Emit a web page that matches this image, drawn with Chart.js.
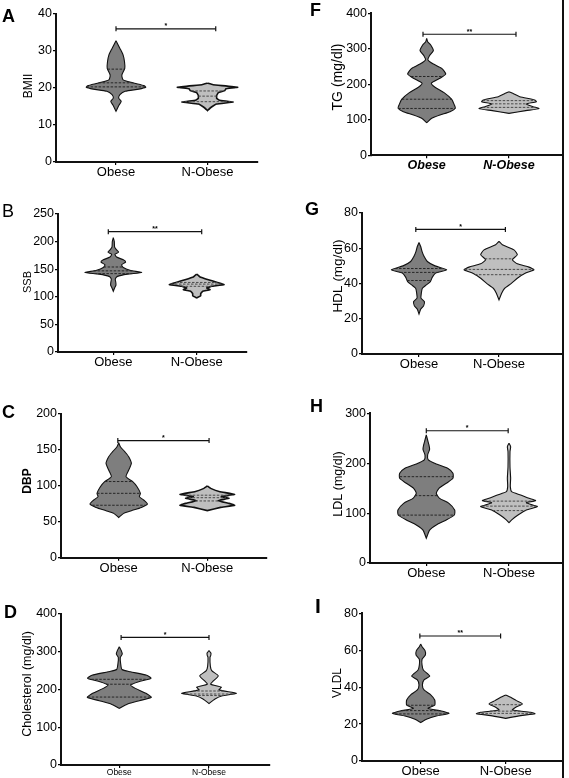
<!DOCTYPE html>
<html>
<head>
<meta charset="utf-8">
<script src="https://cdn.jsdelivr.net/npm/chart.js@4.4.1/dist/chart.umd.min.js"></script>
<style>
  html, body { margin: 0; padding: 0; background: #fff; }
  #wrap { position: relative; width: 569px; height: 778px; overflow: hidden; background: #fff; }
  #wrap canvas { position: absolute; left: 0; top: 0; }
  #edge { position: absolute; left: 562px; top: 0; width: 2px; height: 778px; background: #111; }
</style>
</head>
<body>
<div id="wrap"><div id="edge"></div></div>
<script>
const FONT = '"Liberation Sans", Arial, Helvetica, sans-serif';
const groups = ['Obese', 'N-Obese'];

// violin outlines: value levels (top to bottom) and half widths (category units)
// A - BMI
const bmiObeseLevels = [32.8, 32.1, 30.7, 28.9, 27.1, 25.3, 23.5, 22.2, 21.3, 20.6, 20.2, 19.7, 19.1, 18.2, 17.3, 16.4, 15.2, 13.7];
const bmiObeseWidths = [0, 0.014, 0.043, 0.078, 0.093, 0.096, 0.064, 0.078, 0.203, 0.31, 0.325, 0.25, 0.1, 0.043, 0.029, 0.057, 0.029, 0];
const bmiNObeseLevels = [21.3, 20.9, 20.2, 19.8, 19.3, 18.8, 18.0, 17.2, 16.7, 16.2, 15.7, 14.8, 13.9];
const bmiNObeseWidths = [0, 0.06, 0.33, 0.2, 0.19, 0.12, 0.1, 0.1, 0.13, 0.28, 0.1, 0.04, 0];
const bmiObeseQuart = [25.1, 21.4, 20.3];
const bmiNObeseQuart = [19.2, 17.8, 16.3];

// B - SSB
const ssbObeseLevels = [207, 200, 190, 185, 181, 177, 172, 167, 163, 158, 153, 148, 144, 141, 137, 132, 126, 121, 116, 110];
const ssbObeseWidths = [0, 0.012, 0.016, 0.04, 0.064, 0.02, 0.04, 0.12, 0.148, 0.1, 0.12, 0.2, 0.34, 0.17, 0.05, 0.024, 0.03, 0.032, 0.016, 0];
const ssbNObeseLevels = [141, 136, 131, 126, 122, 119, 116, 113, 110, 106, 102, 98];
const ssbNObeseWidths = [0, 0.04, 0.14, 0.248, 0.328, 0.18, 0.12, 0.16, 0.072, 0.048, 0.048, 0];
const ssbObeseQuart = [154, 147, 142];
const ssbNObeseQuart = [126, 123, 119];

// C - DBP
const dbpObeseLevels = [160, 154.5, 147.6, 140.6, 131.3, 122, 112.8, 105.8, 98.8, 89.6, 85, 80.3, 74.7, 70, 65.4, 61.7, 56];
const dbpObeseWidths = [0, 0.019, 0.068, 0.113, 0.143, 0.113, 0.083, 0.158, 0.207, 0.245, 0.233, 0.282, 0.324, 0.256, 0.143, 0.056, 0];
const dbpNObeseLevels = [99.8, 96.5, 91.9, 88.2, 84.9, 82.6, 79.4, 75.6, 72.9, 70, 65.5];
const dbpNObeseWidths = [0, 0.038, 0.143, 0.309, 0.158, 0.245, 0.12, 0.245, 0.309, 0.15, 0];
const dbpObeseQuart = [106, 89.6, 73];
const dbpNObeseQuart = [87, 83.5, 79];

// D - Cholesterol
const cholObeseLevels = [313, 303, 294, 285, 269, 253, 247, 238, 229.6, 220.8, 212, 203, 190, 179, 170.4, 161.6, 150];
const cholObeseWidths = [0, 0.022, 0.033, 0.011, 0.015, 0.03, 0.123, 0.305, 0.353, 0.216, 0.126, 0.178, 0.297, 0.357, 0.223, 0.093, 0];
const cholNObeseLevels = [303, 296, 290, 285, 262, 250, 236, 222, 214, 206, 199, 190, 183, 175, 163];
const cholNObeseWidths = [0, 0.022, 0.019, 0.011, 0.015, 0.03, 0.104, 0.045, 0.019, 0.137, 0.111, 0.305, 0.141, 0.067, 0];
const cholObeseQuart = [227, 214, 180];
const cholNObeseQuart = [196, 188, 184];

// F - TG
const tgObeseLevels = [329.6, 320, 310.8, 294.8, 279.8, 268.5, 257, 245, 229, 217, 202.8, 191.5, 176.5, 157.7, 141.8, 132.4, 123, 113.6, 104.2, 92];
const tgObeseWidths = [0, 0.012, 0.049, 0.081, 0.032, 0.016, 0.081, 0.182, 0.231, 0.162, 0.057, 0.101, 0.211, 0.304, 0.336, 0.348, 0.284, 0.162, 0.061, 0];
const tgNObeseLevels = [179, 172.8, 165, 156, 151, 144.6, 137, 131.5, 125.8, 118];
const tgNObeseWidths = [0, 0.061, 0.13, 0.312, 0.332, 0.211, 0.292, 0.365, 0.203, 0];
const tgObeseQuart = [222, 158, 132];
const tgNObeseQuart = [154, 145, 135];

// G - HDL
const hdlObeseLevels = [63.3, 61, 58.2, 55.4, 52.5, 50, 47.8, 45.9, 43.6, 41.1, 39.2, 37.3, 34.5, 31.7, 29.8, 27.3, 25.4, 22.7];
const hdlObeseWidths = [0, 0.021, 0.0375, 0.0625, 0.104, 0.2, 0.346, 0.208, 0.167, 0.142, 0.092, 0.042, 0.029, 0.025, 0.067, 0.058, 0.021, 0];
const hdlNObeseLevels = [63.9, 62, 59.1, 56.3, 53.5, 51.2, 49.3, 47.8, 45.9, 43, 40.2, 37.3, 34.5, 30.7];
const hdlNObeseWidths = [0, 0.042, 0.1875, 0.229, 0.167, 0.229, 0.375, 0.4375, 0.333, 0.229, 0.158, 0.071, 0.033, 0];
const hdlObeseQuart = [48.5, 46.3, 41.7];
const hdlNObeseQuart = [54, 48, 45];

// H - LDL
const ldlObeseLevels = [256.6, 246.5, 236.5, 227.8, 216.5, 206.5, 198.4, 189.8, 179.7, 169.7, 159.7, 149.7, 139.6, 129.6, 119.6, 106.2, 96.2, 86.2, 76.2, 66, 49.4];
const ldlObeseWidths = [0, 0.016, 0.032, 0.04, 0.016, 0.024, 0.121, 0.258, 0.322, 0.322, 0.242, 0.153, 0.121, 0.161, 0.274, 0.343, 0.339, 0.242, 0.121, 0.04, 0];
const ldlNObeseLevels = [240, 233, 223, 193, 169.7, 153, 143, 136.3, 129.6, 125, 121, 117, 113, 106.2, 96.2, 87.5, 80.8];
const ldlNObeseWidths = [0, 0.02, 0.012, 0.012, 0.02, 0.016, 0.032, 0.141, 0.242, 0.322, 0.21, 0.27, 0.343, 0.21, 0.109, 0.04, 0];
const ldlObeseQuart = [173, 135, 96];
const ldlNObeseQuart = [124, 114, 105];

// I - VLDL
const vldlObeseLevels = [63.4, 61.9, 59.8, 57.4, 55.1, 52, 49.3, 46, 43.9, 41.2, 38.5, 35.8, 33, 30.3, 28.5, 27.1, 25.8, 24.4, 22.6, 20.8];
const vldlObeseWidths = [0, 0.016, 0.051, 0.055, 0.016, 0.016, 0.031, 0.106, 0.039, 0.02, 0.039, 0.118, 0.165, 0.165, 0.086, 0.243, 0.333, 0.184, 0.067, 0];
const vldlNObeseLevels = [35.8, 34.5, 32.7, 30.9, 29.1, 27.6, 26.4, 25.6, 24.6, 23.1];
const vldlNObeseWidths = [0, 0.059, 0.125, 0.196, 0.118, 0.078, 0.294, 0.345, 0.176, 0];
const vldlObeseQuart = [30.2, 27.3, 25.5];
const vldlNObeseQuart = [30.5, 27, 25.8];

// significance brackets, panels A B C D F G H I
const bracketValues = [36, 218, 163, 338, 341, 70.7, 265, 67.7];
const bracketStars = ['*', '**', '*', '*', '**', '*', '*', '**'];

// layout of each panel in page pixels
const panels = [
  { letter: 'A', bold: true, lx: 2, ly: 22, title: 'BMII', titleX: 29, titleY: 86, titleFont: '12px', L: 56, R: 258, T: 14, B: 162, ymax: 40, step: 10, c1: 116, c2: 207.5, b: [1.0, 2.09], xFont: 'normal', xSize: 13, spiky: true,
    obese: [bmiObeseLevels, bmiObeseWidths, bmiObeseQuart], nobese: [bmiNObeseLevels, bmiNObeseWidths, bmiNObeseQuart] },
  { letter: 'B', bold: false, lx: 2, ly: 217, title: 'SSB', titleX: 28, titleY: 282, titleFont: '11px', L: 58, R: 247, T: 214, B: 352, ymax: 250, step: 50, c1: 113.3, c2: 196.7, b: [0.94, 2.06], xFont: 'normal', xSize: 13, spiky: true,
    obese: [ssbObeseLevels, ssbObeseWidths, ssbObeseQuart], nobese: [ssbNObeseLevels, ssbNObeseWidths, ssbNObeseQuart] },
  { letter: 'C', bold: true, lx: 2, ly: 418, title: 'DBP', titleX: 28, titleY: 481, titleFont: 'bold 12px', L: 61, R: 267, T: 414, B: 557.7, ymax: 200, step: 50, c1: 118.7, c2: 207.3, b: [0.99, 2.02], xFont: 'normal', xSize: 13, spiky: true,
    obese: [dbpObeseLevels, dbpObeseWidths, dbpObeseQuart], nobese: [dbpNObeseLevels, dbpNObeseWidths, dbpNObeseQuart] },
  { letter: 'D', bold: true, lx: 4, ly: 618, title: 'Cholesterol (mg/dl)', titleX: 28, titleY: 684, titleFont: '12.5px', L: 61, R: 270, T: 614, B: 765, ymax: 400, step: 100, c1: 119.3, c2: 209, b: [1.02, 2.0], xFont: 'normal', xSize: 8.5, xh: 13,
    obese: [cholObeseLevels, cholObeseWidths, cholObeseQuart], nobese: [cholNObeseLevels, cholNObeseWidths, cholNObeseQuart] },
  { letter: 'F', bold: true, lx: 310, ly: 16, title: 'TG (mg/dl)', titleX: 338, titleY: 77, titleFont: '14px', L: 371, R: 562, T: 13.3, B: 155.3, ymax: 400, step: 100, c1: 426.7, c2: 509, b: [0.955, 2.085], xFont: 'italic bold', xSize: 12.5,
    obese: [tgObeseLevels, tgObeseWidths, tgObeseQuart], nobese: [tgNObeseLevels, tgNObeseWidths, tgNObeseQuart] },
  { letter: 'G', bold: true, lx: 305, ly: 215, title: 'HDL (mg/dl)', titleX: 338, titleY: 276, titleFont: '13.5px', L: 362, R: 562, T: 213, B: 354, ymax: 80, step: 20, c1: 419, c2: 499, b: [0.96, 2.08], xFont: 'normal', xSize: 13,
    obese: [hdlObeseLevels, hdlObeseWidths, hdlObeseQuart], nobese: [hdlNObeseLevels, hdlNObeseWidths, hdlNObeseQuart] },
  { letter: 'H', bold: true, lx: 310, ly: 412, title: 'LDL (mg/dl)', titleX: 339, titleY: 484, titleFont: '12.5px', L: 370, R: 562, T: 413.3, B: 563, ymax: 300, step: 100, c1: 426.3, c2: 509, b: [1.0, 1.99], xFont: 'normal', xSize: 13,
    obese: [ldlObeseLevels, ldlObeseWidths, ldlObeseQuart], nobese: [ldlNObeseLevels, ldlNObeseWidths, ldlNObeseQuart] },
  { letter: 'I', bold: true, lx: 315, ly: 613, title: 'VLDL', titleX: 338, titleY: 683, titleFont: '12px', L: 362, R: 562, T: 613.3, B: 761, ymax: 80, step: 20, c1: 420.7, c2: 505.7, b: [0.99, 1.94], xFont: 'normal', xSize: 13,
    obese: [vldlObeseLevels, vldlObeseWidths, vldlObeseQuart], nobese: [vldlNObeseLevels, vldlNObeseWidths, vldlNObeseQuart] }
];

const Y_AXIS_W = 40;

function violinPoints(center, levels, widths) {
  const right = levels.map((v, i) => ({ x: center + widths[i], y: v }));
  const left = levels.map((v, i) => ({ x: center - widths[i], y: v })).reverse();
  return right.concat(left);
}

function widthAt(levels, widths, q) {
  for (let i = 0; i < levels.length - 1; i++) {
    const a = levels[i], b = levels[i + 1];
    if (q <= a && q >= b) {
      const t = (a - q) / (a - b);
      return widths[i] + t * (widths[i + 1] - widths[i]);
    }
  }
  return 0;
}

// chart.js paints higher "order" first, so the violin bodies go under their quartile lines
function violinDatasets(center, set, fillColor, dashColor, spiky) {
  const [levels, widths, quart] = set;
  const out = [{
    data: violinPoints(center, levels, widths),
    borderColor: '#111', borderWidth: spiky ? 1.6 : 1.1, backgroundColor: fillColor,
    fill: 'shape', pointRadius: 0, tension: spiky ? 0.05 : 0.2, order: 3
  }];
  quart.forEach(q => {
    const w = widthAt(levels, widths, q);
    out.push({
      data: [{ x: center - w, y: q }, { x: center + w, y: q }],
      borderColor: dashColor, borderWidth: 1, borderDash: [2.5, 1.5],
      fill: false, pointRadius: 0, tension: 0, order: 2
    });
  });
  return out;
}

// panel letter, rotated y title and significance stars
const panelText = {
  id: 'panelText',
  afterDraw(chart, args, o) {
    const { ctx, scales } = chart;
    ctx.save();
    ctx.fillStyle = '#000';
    ctx.textAlign = 'left';
    ctx.textBaseline = 'alphabetic';
    ctx.font = (o.bold ? 'bold ' : '') + o.letterSize + 'px ' + FONT;
    ctx.fillText(o.letter, o.lx, o.ly);

    const sx = scales.x.getPixelForValue(o.starX);
    const sy = scales.y.getPixelForValue(o.starY);
    ctx.textAlign = 'center';
    ctx.textBaseline = 'bottom';
    ctx.font = 'bold 7px ' + FONT;
    ctx.fillText(o.stars, sx, sy + 1);

    ctx.translate(o.titleX, o.titleY);
    ctx.rotate(-Math.PI / 2);
    ctx.textBaseline = 'middle';
    ctx.font = o.titleFont + ' ' + FONT;
    ctx.fillText(o.title, 0, 0);
    ctx.restore();
  }
};

const wrap = document.getElementById('wrap');

panels.forEach((p, k) => {
  const sp = p.c2 - p.c1;
  const xMin = 1 - (p.c1 - p.L) / sp;
  const xMax = 2 + (p.R - p.c2) / sp;
  const xh = p.xh || 20;

  const canvas = document.createElement('canvas');
  canvas.width = 569;
  canvas.height = 778;
  wrap.appendChild(canvas);

  const datasets = [
    ...violinDatasets(1, p.obese, '#7e7e7e', '#262626', false),
    ...violinDatasets(2, p.nobese, '#bfbfbf', '#4a4a4a', !!p.spiky),
    {
      data: [{ x: p.b[0], y: bracketValues[k] }, { x: p.b[1], y: bracketValues[k] }],
      borderColor: '#111', borderWidth: 1.2, fill: false, tension: 0, order: 1,
      pointStyle: 'line', rotation: 90, pointRadius: 2.5,
      pointBorderColor: '#111', pointBorderWidth: 1.2
    }
  ];

  new Chart(canvas.getContext('2d'), {
    type: 'line',
    data: { datasets },
    options: {
      responsive: false,
      animation: false,
      devicePixelRatio: 1,
      events: [],
      layout: { padding: { left: p.L - Y_AXIS_W, top: p.T, right: 569 - p.R, bottom: 778 - p.B - xh } },
      plugins: {
        legend: { display: false },
        tooltip: { enabled: false },
        panelText: {
          letter: p.letter, bold: p.bold, letterSize: p.letter === 'I' ? 21 : 18, lx: p.lx, ly: p.ly,
          title: p.title, titleX: p.titleX, titleY: p.titleY, titleFont: p.titleFont,
          stars: bracketStars[k], starX: (p.b[0] + p.b[1]) / 2, starY: bracketValues[k]
        }
      },
      scales: {
        x: {
          type: 'linear', min: xMin, max: xMax,
          afterBuildTicks: (s) => { s.ticks = [{ value: 1 }, { value: 2 }]; },
          ticks: {
            autoSkip: false, maxRotation: 0, padding: 0, color: '#000',
            font: { family: FONT, size: p.xSize, style: p.xFont.includes('italic') ? 'italic' : 'normal', weight: p.xFont.includes('bold') ? 'bold' : 'normal' },
            callback: (v) => groups[Math.round(v) - 1]
          },
          grid: { drawOnChartArea: false, drawTicks: true, tickLength: 3, color: '#000', lineWidth: 1.2 },
          border: { color: '#111', width: 2 },
          afterFit: (s) => { s.height = xh; }
        },
        y: {
          type: 'linear', min: 0, max: p.ymax,
          ticks: { stepSize: p.step, color: '#000', padding: 1, font: { family: FONT, size: 12.5 } },
          grid: { drawOnChartArea: false, drawTicks: true, tickLength: 3, color: '#000', lineWidth: 1.2 },
          border: { color: '#111', width: 2 },
          afterFit: (s) => { s.width = Y_AXIS_W; }
        }
      }
    },
    plugins: [panelText]
  });
});
</script>
</body>
</html>
